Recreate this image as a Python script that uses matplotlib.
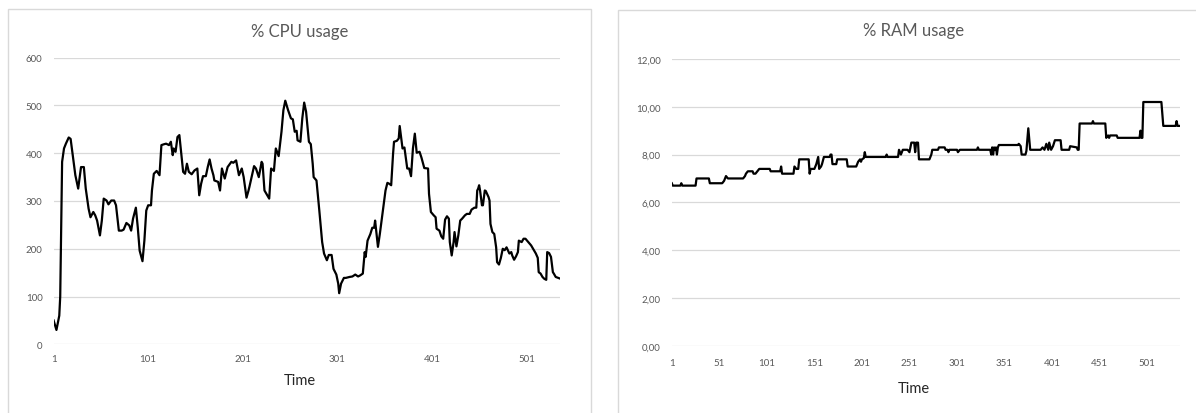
import numpy as np
import matplotlib
matplotlib.use("Agg")
import matplotlib.pyplot as plt
from matplotlib.patches import Rectangle
from matplotlib.ticker import FuncFormatter

# values (sample index, value)
cpu_time = [1, 4, 7, 8, 10, 12, 14, 17, 19, 22, 24, 27, 30, 33, 35, 38, 40, 43, 45, 47,
            50, 52, 54, 57, 59, 62, 65, 67, 70, 73, 75, 78, 81, 83, 85, 88, 90, 92, 95, 97,
            99, 101, 104, 105, 107, 110, 113, 115, 118, 120, 123, 125, 127, 128, 130, 132, 134, 136, 138, 140,
            142, 144, 147, 150, 153, 155, 157, 159, 162, 164, 166, 168, 170, 171, 175, 177, 179, 182, 185, 189,
            191, 194, 197, 200, 202, 205, 207, 208, 210, 213, 215, 218, 221, 222, 224, 227, 229, 231, 234, 236,
            239, 242, 244, 246, 249, 252, 254, 256, 258, 259, 262, 264, 266, 268, 271, 273, 275, 276, 279, 282,
            285, 287, 290, 292, 295, 297, 300, 302, 303, 305, 308, 310, 314, 317, 320, 323, 325, 328, 330, 331,
            333, 336, 338, 340, 341, 344, 346, 349, 352, 354, 356, 358, 360, 361, 364, 366, 367, 368, 370, 372,
            374, 375, 377, 379, 381, 383, 385, 388, 390, 393, 397, 398, 400, 403, 405, 406, 409, 411, 413, 415,
            417, 419, 420, 422, 424, 425, 427, 429, 431, 433, 436, 438, 441, 443, 446, 448, 449, 450, 451, 452,
            454, 455, 457, 458, 461, 462, 463, 465, 467, 469, 470, 472, 474, 476, 478, 480, 483, 485, 486, 488,
            490, 492, 493, 496, 498, 500, 503, 506, 509, 511, 513, 514, 516, 518, 520, 522, 523, 525, 527, 529,
            530, 532, 536]
cpu_usage = [50, 30, 60, 100, 382, 410, 420, 433, 430, 385, 354, 326, 371, 371, 326, 284, 266, 277, 270, 259,
             228, 259, 305, 301, 293, 301, 301, 291, 238, 238, 240, 254, 249, 238, 263, 286, 245, 196, 174, 217,
             280, 291, 291, 322, 357, 363, 354, 417, 419, 420, 417, 424, 396, 410, 403, 434, 438, 399, 361, 357,
             378, 361, 356, 364, 368, 312, 336, 352, 352, 371, 387, 368, 354, 343, 340, 322, 368, 347, 371, 382,
             380, 385, 354, 368, 350, 307, 321, 329, 347, 373, 368, 350, 382, 378, 322, 312, 305, 368, 363, 410,
             394, 445, 490, 510, 490, 473, 471, 445, 447, 427, 424, 473, 506, 487, 424, 419, 378, 350, 343, 280,
             214, 190, 176, 187, 187, 158, 146, 127, 107, 127, 139, 139, 141, 142, 146, 142, 144, 148, 193, 183,
             217, 231, 244, 244, 259, 204, 231, 277, 322, 338, 336, 333, 399, 424, 426, 431, 457, 441, 410, 412,
             382, 368, 368, 352, 410, 441, 401, 403, 391, 369, 368, 315, 277, 270, 266, 242, 238, 226, 221, 261,
             268, 263, 214, 186, 214, 235, 205, 228, 259, 263, 270, 273, 273, 282, 286, 286, 322, 326, 333, 322,
             291, 291, 322, 321, 308, 301, 252, 235, 231, 203, 172, 167, 181, 200, 197, 203, 190, 193, 186, 177,
             184, 193, 217, 214, 221, 221, 214, 207, 197, 190, 181, 151, 148, 141, 137, 135, 193, 191, 183, 151,
             148, 141, 138]

ram_time = [1, 2, 10, 11, 12, 26, 27, 40, 41, 54, 56, 58, 60, 76, 78, 79, 81, 86, 87, 89,
            91, 93, 104, 105, 115, 116, 117, 129, 130, 132, 134, 135, 145, 146, 147, 151, 153, 155, 156, 158,
            159, 161, 167, 168, 169, 170, 174, 175, 185, 186, 195, 197, 199, 200, 201, 203, 204, 205, 226, 227,
            228, 239, 240, 241, 242, 244, 249, 251, 253, 256, 257, 258, 260, 261, 272, 273, 274, 275, 281, 282,
            288, 289, 291, 292, 293, 301, 302, 304, 322, 323, 324, 336, 337, 338, 339, 340, 341, 342, 343, 344,
            345, 365, 366, 368, 369, 373, 374, 376, 378, 389, 391, 393, 395, 397, 398, 400, 402, 404, 410, 411,
            419, 420, 427, 428, 429, 430, 443, 444, 445, 457, 458, 460, 461, 462, 469, 470, 493, 494, 495, 496,
            497, 516, 518, 531, 532, 533, 536]
ram_usage = [6.8, 6.7, 6.7, 6.8, 6.7, 6.7, 7.0, 7.0, 6.8, 6.8, 6.9, 7.1, 7.0, 7.0, 7.1, 7.2, 7.3, 7.3, 7.2, 7.2,
             7.3, 7.4, 7.4, 7.3, 7.3, 7.5, 7.2, 7.2, 7.5, 7.4, 7.4, 7.8, 7.8, 7.2, 7.4, 7.4, 7.6, 7.9, 7.4, 7.5,
             7.6, 7.9, 7.9, 8.0, 8.0, 7.6, 7.6, 7.8, 7.8, 7.5, 7.5, 7.7, 7.8, 7.7, 7.8, 7.85, 8.1, 7.9, 7.9, 8.0,
             7.9, 7.9, 8.2, 8.1, 8.0, 8.2, 8.2, 8.1, 8.5, 8.5, 8.1, 8.5, 8.5, 7.8, 7.8, 7.9, 8.0, 8.2, 8.2, 8.3,
             8.3, 8.2, 8.2, 8.1, 8.2, 8.2, 8.1, 8.2, 8.2, 8.3, 8.2, 8.2, 8.0, 8.3, 8.0, 8.3, 8.2, 8.3, 8.0, 8.3,
             8.4, 8.4, 8.45, 8.35, 8.0, 8.0, 8.15, 9.1, 8.2, 8.2, 8.3, 8.2, 8.45, 8.2, 8.5, 8.2, 8.35, 8.6, 8.6, 8.2,
             8.2, 8.35, 8.3, 8.2, 8.2, 9.3, 9.3, 9.4, 9.3, 9.3, 8.7, 8.8, 8.7, 8.8, 8.8, 8.7, 8.7, 9.0, 8.7, 8.7,
             10.2, 10.2, 9.2, 9.2, 9.4, 9.2, 9.2]

n_samples = 536
cpu_xticks = [1, 101, 201, 301, 401, 501]
ram_xticks = [1, 51, 101, 151, 201, 251, 301, 351, 401, 451, 501]
cpu_yticks = [0, 100, 200, 300, 400, 500, 600]
ram_yticks = [0, 2, 4, 6, 8, 10, 12]

plt.rcParams['font.family'] = ['Lato', 'DejaVu Sans']

W, H = 1196, 414
fig = plt.figure(figsize=(W / 100, H / 100), dpi=100)

# chart frames like the spreadsheet chart boxes
fig.add_artist(Rectangle((7.7 / W, -0.05), (590.5 - 7.7) / W, 1.05 - 10 / H,
                         transform=fig.transFigure, fill=False, ec='#d9d9d9', lw=1))
fig.add_artist(Rectangle((618 / W, -0.05), 0.6, 1.05 - 11 / H,
                         transform=fig.transFigure, fill=False, ec='#d9d9d9', lw=1))

ax1 = fig.add_axes([53.6 / W, 1 - 345.3 / H, (559.5 - 53.6) / W, (345.3 - 58.7) / H])
ax2 = fig.add_axes([671.8 / W, 1 - 346.7 / H, (1180.4 - 671.8) / W, (346.7 - 60) / H])

ax1.plot(cpu_time, cpu_usage, color='black', lw=1.6)
ax2.plot(ram_time, ram_usage, color='black', lw=1.6)

for ax, xt, yt, top, xpad in [(ax1, cpu_xticks, cpu_yticks, 600, 7), (ax2, ram_xticks, ram_yticks, 12, 8.5)]:
    ax.set_xlim(1, n_samples)
    ax.set_ylim(0, top)
    ax.set_xticks(xt)
    ax.set_yticks(yt)
    ax.grid(True, axis='y', color='#d9d9d9', lw=0.9)
    ax.set_axisbelow(True)
    for s in ax.spines.values():
        s.set_visible(False)
    ax.tick_params(length=0, labelsize=7, labelcolor='#595959')
    ax.tick_params(axis='y', pad=8)
    ax.tick_params(axis='x', pad=xpad)

ax2.yaxis.set_major_formatter(FuncFormatter(lambda v, p: f"{v:.2f}".replace('.', ',')))

fig.text(299.5 / W, 1 - 32 / H, "% CPU usage", ha='center', va='center', fontsize=12, color='#595959')
fig.text(913.6 / W, 1 - 31 / H, "% RAM usage", ha='center', va='center', fontsize=12, color='#595959')
fig.text(299.7 / W, 1 - 381.5 / H, "Time", ha='center', va='center', fontsize=10.5, color='#262626')
fig.text(914 / W, 1 - 389 / H, "Time", ha='center', va='center', fontsize=10.5, color='#262626')

fig.savefig("out.png", dpi=100)
